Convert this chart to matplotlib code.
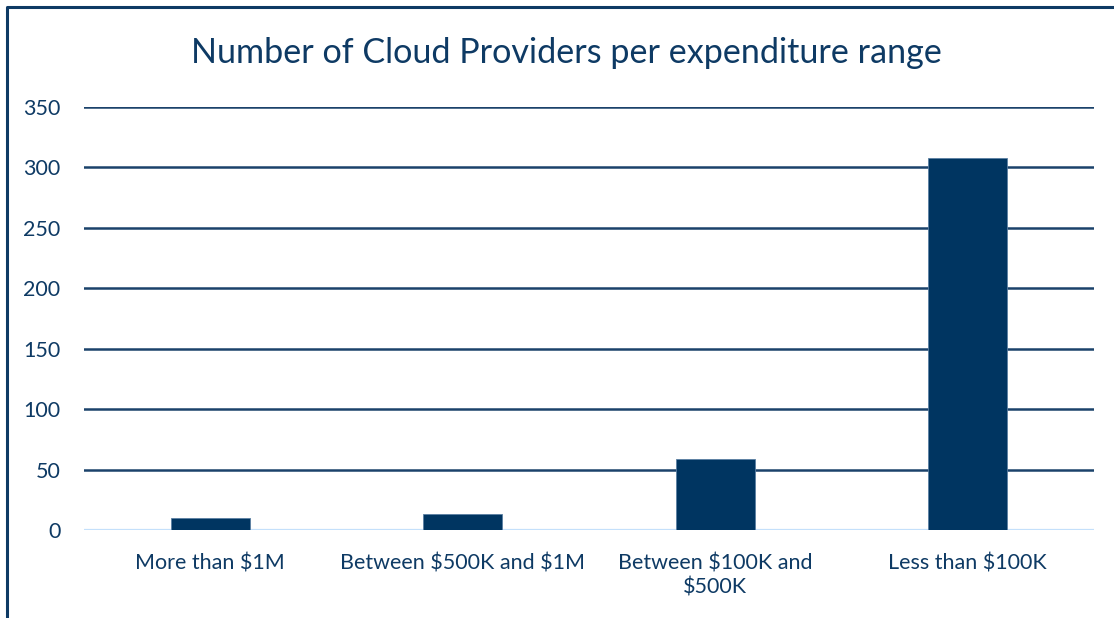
import matplotlib
matplotlib.use("Agg")
import matplotlib.pyplot as plt
from matplotlib.lines import Line2D

# Chart data
categories = ["More than \\$1M", "Between \\$500K and \\$1M", "Between \\$100K and\n\\$500K", "Less than \\$100K"]
providers = [10, 13, 59, 308]
y_ticks = [0, 50, 100, 150, 200, 250, 300, 350]

navy = "#003561"
text_color = "#0e3a64"
grid_color = "#1b426b"
base_color = "#c4e0fb"

plt.rcParams["font.family"] = ["Lato", "DejaVu Sans"]

W, H = 1114, 618
fig = plt.figure(figsize=(W / 100, H / 100), dpi=100)
ax = fig.add_axes([84 / W, 1 - 530 / H, (1094 - 84) / W, (530 - 107) / H])

x = list(range(len(categories)))
ax.bar(x, providers, width=0.313, color=navy, edgecolor="#5b7fa3", linewidth=0.6, zorder=3)

ax.set_xlim(-0.5, len(categories) - 0.5)
ax.set_ylim(0, 350)
ax.set_yticks(y_ticks)
ax.set_xticks(x)
ax.set_xticklabels(categories, fontsize=15.5, color=text_color, linespacing=1.25)
ax.tick_params(axis="y", labelsize=15.5, labelcolor=text_color, length=0, pad=17)
ax.tick_params(axis="x", length=0, pad=17)

# horizontal gridlines (not at zero)
for t in y_ticks[1:]:
    ax.axhline(t, color=grid_color, linewidth=1.8, zorder=1)
ax.axhline(0, color=base_color, linewidth=1.6, zorder=2)

for s in ax.spines.values():
    s.set_visible(False)

fig.suptitle("Number of Cloud Providers per expenditure range", x=566 / W, y=1 - 53 / H,
             va="center", fontsize=24.6, color=text_color)

# figure frame (left and top edge)
fig.add_artist(Line2D([7 / W, 7 / W, 1.0], [0, 1 - 7 / H, 1 - 7 / H],
                      transform=fig.transFigure, color="#0e3a64", linewidth=2.2))

fig.savefig("out.png", dpi=100)
